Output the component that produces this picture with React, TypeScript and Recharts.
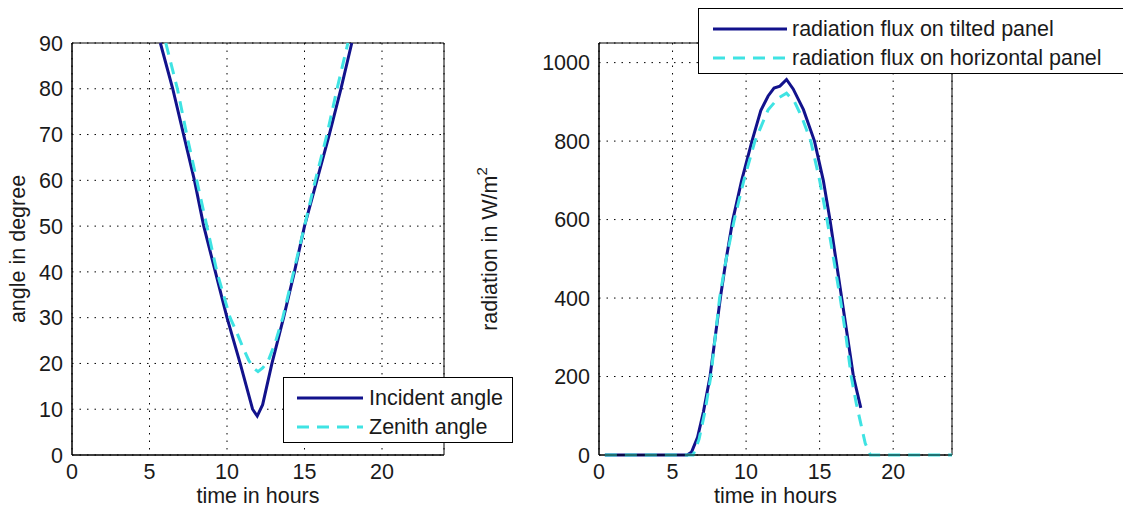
import React from 'react';
import { LineChart, Line, XAxis, YAxis, CartesianGrid, ReferenceArea } from 'recharts';

// left panel: angles vs time of day
const incidentHours = [5.7, 6.5, 7.2, 7.9, 8.5, 9.25, 10.0, 10.85, 11.65, 11.95, 12.3, 12.9, 13.65, 14.35, 15.0, 15.8, 16.6, 17.35, 18.05];
const incidentAngle = [90, 80, 70, 60, 50, 40, 30, 20, 10, 8.5, 11, 20, 30, 40, 50, 60, 70, 80, 90];
const zenithHours = [6.05, 6.8, 7.4, 8.05, 8.7, 9.35, 10.2, 10.6, 11.0, 11.4, 11.7, 12.0, 12.3, 12.65, 13.1, 13.6, 14.3, 15.0, 15.7, 16.45, 17.1, 17.8];
const zenithAngle = [90, 80, 70, 60, 50, 40, 30, 27, 23.7, 20.7, 19, 18.2, 19, 20.5, 24.4, 30, 40, 50, 60, 70, 80, 90];

// right panel: radiation flux
const tiltedHours = [0.4, 6.0, 6.3, 6.7, 7.1, 7.55, 7.9, 8.25, 8.65, 9.1, 9.7, 10.4, 11.0, 11.5, 11.9, 12.3, 12.75, 13.2, 13.9, 14.65, 15.25, 15.7, 16.1, 16.5, 16.9, 17.3, 17.8];
const tiltedFlux = [0, 0, 8, 45, 110, 200, 300, 400, 500, 600, 700, 800, 878, 915, 935, 940, 957, 933, 880, 800, 700, 600, 500, 400, 300, 200, 120];
const horizHours = [0.4, 6.4, 6.8, 7.2, 7.6, 8.2, 8.65, 9.2, 9.85, 10.6, 11.5, 12.2, 12.75, 13.3, 13.8, 14.4, 15.0, 15.5, 15.95, 16.4, 16.8, 17.15, 17.5, 17.8, 18.1, 18.45, 24];
const horizFlux = [0, 0, 40, 110, 200, 400, 500, 600, 700, 800, 880, 910, 922, 900, 860, 800, 700, 600, 500, 400, 300, 200, 130, 80, 30, 0, 0];

const hourTicks = [0, 5, 10, 15, 20];
const angleTicks = [0, 10, 20, 30, 40, 50, 60, 70, 80, 90];
const fluxTicks = [0, 200, 400, 600, 800, 1000];

const toPoints = (hours: number[], vals: number[]) => hours.map((h, i) => ({ h, v: vals[i] }));

const NAVY = '#12128c';
const CYAN = '#3fe3e3';
const FONT = '"Liberation Sans", Arial, sans-serif';
const FS = 21.5;
const tickStyle = { fontSize: FS, fill: '#1a1a1a', fontFamily: FONT };

const RotLabel = ({ cx, cy, text, sup }: { cx: number; cy: number; text: string; sup?: string }) => (
  <text
    x={cx}
    y={cy}
    transform={`rotate(-90 ${cx} ${cy})`}
    textAnchor="middle"
    dominantBaseline="central"
    fontSize={FS}
    fontFamily={FONT}
    fill="#1a1a1a"
  >
    {text}
    {sup && <tspan dy={-9} fontSize={15}>{sup}</tspan>}
  </text>
);

const LegendBox = ({ items, width, x1, x2, tx }: { items: { label: string; color: string; dash?: string }[]; width: number; x1: number; x2: number; tx: number }) => (
  <svg width={width} height={66} style={{ display: 'block' }}>
    {items.map((it, i) => {
      const y = 20 + i * 29;
      return (
        <g key={it.label}>
          <line x1={x1} x2={x2} y1={y} y2={y} stroke={it.color} strokeWidth={3} strokeDasharray={it.dash} />
          <text x={tx} y={y} dominantBaseline="central" fontSize={FS} fontFamily={FONT} fill="#1a1a1a">
            {it.label}
          </text>
        </g>
      );
    })}
  </svg>
);

export default function App() {
  return (
    <div style={{ position: 'relative', width: 1131, height: 514, margin: -8, overflow: 'hidden', background: '#fff' }}>
      {/* left: angles */}
      <div style={{ position: 'absolute', left: 0, top: 0 }}>
        <LineChart width={470} height={514} margin={{ top: 43, right: 26, bottom: 0, left: 0 }}>
          <CartesianGrid stroke="#000" strokeDasharray="1.5 6" />
          <XAxis
            dataKey="h" type="number" domain={[0, 24]} ticks={hourTicks} height={59}
            tick={tickStyle} tickLine={false} tickSize={6} tickMargin={3} stroke="#000"
            label={{ value: 'time in hours', position: 'insideBottom', offset: 11, fontSize: FS, fill: '#1a1a1a', fontFamily: FONT }}
          />
          <YAxis
            type="number" domain={[0, 90]} ticks={angleTicks} width={72}
            tick={tickStyle} tickLine={false} tickSize={6} tickMargin={3} stroke="#000"
            label={<RotLabel cx={18} cy={249} text="angle in degree" />}
          />
          <ReferenceArea x1={0} x2={24} y1={0} y2={90} fill="none" stroke="#000" strokeWidth={1} />
          <Line data={toPoints(incidentHours, incidentAngle)} dataKey="v" type="linear" stroke={NAVY} strokeWidth={3} dot={false} isAnimationActive={false} />
          <Line data={toPoints(zenithHours, zenithAngle)} dataKey="v" type="linear" stroke={CYAN} strokeWidth={3} strokeDasharray="12 8" dot={false} isAnimationActive={false} />
        </LineChart>
      </div>

      {/* right: radiation */}
      <div style={{ position: 'absolute', left: 470, top: 0 }}>
        <LineChart width={661} height={514} margin={{ top: 43, right: 179, bottom: 0, left: 0 }}>
          <CartesianGrid stroke="#000" strokeDasharray="1.5 6" />
          <XAxis
            dataKey="h" type="number" domain={[0, 24]} ticks={hourTicks} height={59}
            tick={tickStyle} tickLine={false} tickSize={6} tickMargin={3} stroke="#000"
            label={{ value: 'time in hours', position: 'insideBottom', offset: 11, fontSize: FS, fill: '#1a1a1a', fontFamily: FONT }}
          />
          <YAxis
            type="number" domain={[0, 1050]} ticks={fluxTicks} width={129}
            tick={tickStyle} tickLine={false} tickSize={6} tickMargin={3} stroke="#000"
            label={<RotLabel cx={20} cy={249} text="radiation in W/m" sup="2" />}
          />
          <ReferenceArea x1={0} x2={24} y1={0} y2={1050} fill="none" stroke="#000" strokeWidth={1} />
          <Line data={toPoints(tiltedHours, tiltedFlux)} dataKey="v" type="linear" stroke={NAVY} strokeWidth={3} dot={false} isAnimationActive={false} />
          <Line data={toPoints(horizHours, horizFlux)} dataKey="v" type="linear" stroke={CYAN} strokeWidth={3} strokeDasharray="12 8" dot={false} isAnimationActive={false} />
        </LineChart>
      </div>

      {/* legends */}
      <div style={{ position: 'absolute', left: 283, top: 377, width: 230, height: 66, border: '1px solid #000', background: '#fff', boxSizing: 'border-box' }}>
        <LegendBox
          width={230} x1={13} x2={79} tx={85}
          items={[
            { label: 'Incident angle', color: NAVY },
            { label: 'Zenith angle', color: CYAN, dash: '12 8' },
          ]}
        />
      </div>
      <div style={{ position: 'absolute', left: 698, top: 8, width: 470, height: 66, border: '1px solid #000', background: '#fff', boxSizing: 'border-box' }}>
        <LegendBox
          width={470} x1={14} x2={88} tx={93}
          items={[
            { label: 'radiation flux on tilted panel', color: NAVY },
            { label: 'radiation flux on horizontal panel', color: CYAN, dash: '12 8' },
          ]}
        />
      </div>
    </div>
  );
}
